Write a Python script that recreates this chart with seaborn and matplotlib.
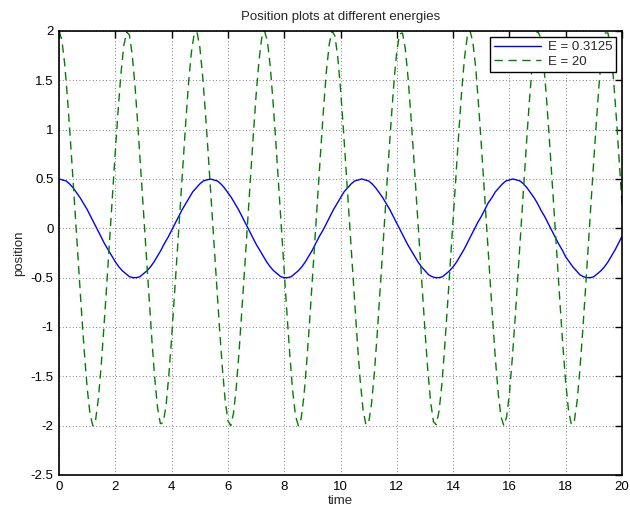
import numpy as np
import pandas as pd
import matplotlib
matplotlib.use("Agg")
import matplotlib.pyplot as plt
import seaborn as sns

# Blue series (E = 0.3125): position x100, sampled every 0.125 time units
time_low = [i * 0.125 for i in range(161)]
pos_low = [50,49,48,45,41,36,31,25,19,12,5,-2,-9,-16,-22,-28,-34,-39,-43,-46,-49,-50,-50,-49,-46,-43,-39,-34,-28,-22,-15,-9,-2,5,12,19,25,31,37,41,45,48,49,50,49,48,45,41,36,31,25,19,12,5,-2,-9,-16,-22,-28,-34,-39,-43,-46,-49,-50,-50,-49,-46,-43,-39,-34,-28,-22,-15,-8,-2,5,12,19,25,31,
           37,41,45,48,49,50,49,48,45,41,36,31,25,19,12,5,-2,-9,-16,-22,-28,-34,-39,-43,-47,-49,-50,-50,-49,-46,-43,-39,-34,-28,-22,-15,-8,-1,6,12,19,26,31,37,41,45,48,49,50,49,48,45,41,36,31,25,18,12,5,-2,-9,-16,-22,-29,-34,-39,-43,-47,-49,-50,-50,-49,-46,-43,-39,-34,-28,-22,-15,-8]
# Green series (E = 20): position x100, sampled every 0.1 time units
time_high = [i * 0.1 for i in range(201)]
pos_high = [200,191,167,132,91,48,3,-41,-85,-126,-162,-188,-200,-194,-172,-138,-98,-55,-10,34,78,120,157,185,199,196,176,144,104,61,17,-27,-71,-114,-152,-182,-198,-197,-180,-149,-111,-68,-24,20,65,107,147,178,197,199,184,155,117,75,31,-14,-58,-101,-141,-174,-195,-200,-187,-160,-123,-81,-38,7,51,94,135,169,193,200,190,165,129,88,44,0,-44,-88,-129,-165,-190,-200,-193,-170,-135,-95,-51,-7,37,81,123,160,187,200,195,174,141,
            101,58,14,-30,-74,-117,-155,-184,-199,-197,-178,-147,-108,-65,-21,24,68,110,149,180,197,198,182,152,114,72,28,-17,-61,-104,-144,-176,-196,-199,-185,-158,-120,-78,-34,10,54,97,138,172,194,200,189,163,126,85,41,-3,-47,-91,-132,-167,-191,-200,-191,-167,-132,-92,-48,-4,41,84,126,162,188,200,194,172,138,98,55,11,-34,-78,-120,-157,-185,-199,-196,-176,-144,-105,-62,-17,27,71,113,152,182,198,198,180,150,111,68,24]
labels = ["E = 0.3125", "E = 20"]
x_ticks = list(range(0, 21, 2))
y_ticks = [-2.5, -2, -1.5, -1, -0.5, 0, 0.5, 1, 1.5, 2]
y_tick_labels = ["-2.5", "-2", "-1.5", "-1", "-0.5", "0", "0.5", "1", "1.5", "2"]

df = pd.concat([
    pd.DataFrame({"time": time_low, "position": np.array(pos_low) / 100, "series": labels[0]}),
    pd.DataFrame({"time": time_high, "position": np.array(pos_high) / 100, "series": labels[1]}),
], ignore_index=True)

sns.set_style("white")
plt.rcParams["font.family"] = ["Liberation Sans", "DejaVu Sans"]

fig = plt.figure(figsize=(6.3, 5.08), dpi=100)
ax = fig.add_axes([0.0937, 0.065, 0.8937, 0.874])

sns.lineplot(data=df, x="time", y="position", hue="series", style="series",
             palette={labels[0]: "#0000ff", labels[1]: "#008000"},
             dashes={labels[0]: "", labels[1]: (6, 4)},
             linewidth=1.0, ax=ax, sort=False, estimator=None)

ax.set_xlim(0, 20)
ax.set_ylim(-2.5, 2)
ax.set_xticks(x_ticks)
ax.set_xticklabels([str(t) for t in x_ticks])
ax.set_yticks(y_ticks)
ax.set_yticklabels(y_tick_labels)
ax.grid(True, linestyle=(0, (1, 3)), color="#555555", linewidth=0.6)
ax.tick_params(direction="in", length=5, width=1.0, top=True, right=True,
               labelsize=9.5, colors="black", pad=4)
for s in ax.spines.values():
    s.set_color("black")
    s.set_linewidth(1.2)
ax.set_xlabel("time", fontsize=9.5, labelpad=2)
ax.set_ylabel("position", fontsize=9.5, labelpad=4)
ax.set_title("Position plots at different energies", fontsize=9.5, pad=8)

leg = ax.legend(loc="upper right", fontsize=9.5, frameon=True, fancybox=False,
                edgecolor="black", framealpha=1, borderaxespad=0.45,
                handlelength=3.6, borderpad=0.3, labelspacing=0.2, handletextpad=0.5)
leg.get_frame().set_linewidth(1.0)
leg.set_title(None)

fig.savefig("out.png", dpi=100)
